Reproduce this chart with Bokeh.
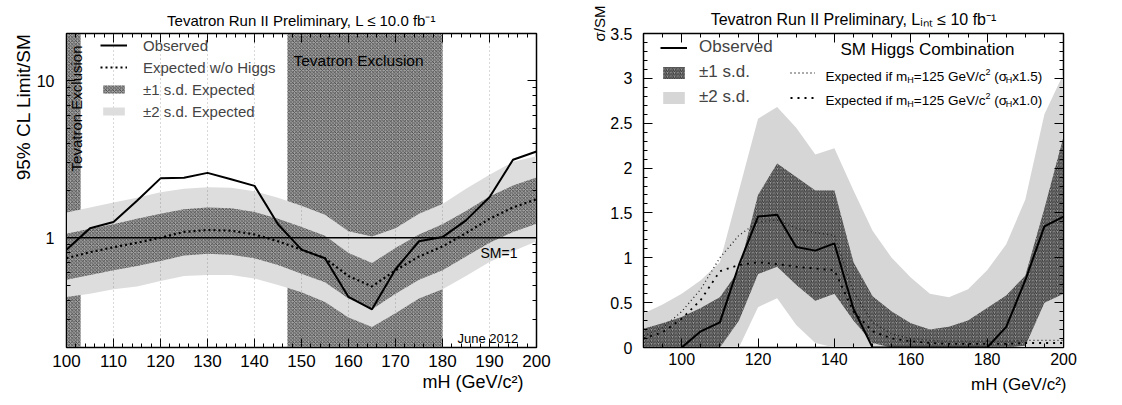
import math
from bokeh.plotting import figure
from bokeh.layouts import row
from bokeh.models import (Range1d, FixedTicker, Label, Span, Legend, LegendItem, Title,
                          BoxAnnotation, ColumnDataSource, LinearAxis, LogAxis)
from bokeh.embed import file_html
from bokeh.resources import INLINE

FONT = "Liberation Sans"

# ---------------- left panel data (95% CL limit / SM, log scale) ----------------
mass_l = [100, 105, 110, 115, 120, 125, 130, 135, 140, 145, 150,
          155, 160, 165, 170, 175, 180, 185, 190, 195, 200]
obs_l = [0.84, 1.15, 1.26, 1.72, 2.39, 2.41, 2.59, 2.36, 2.14, 1.22, 0.84,
         0.74, 0.42, 0.35, 0.63, 0.95, 1.01, 1.29, 1.81, 3.14, 3.54]
exp_l = [0.74, 0.81, 0.87, 0.93, 1.00, 1.09, 1.12, 1.11, 1.05, 0.95, 0.84,
         0.74, 0.57, 0.49, 0.62, 0.76, 0.88, 1.07, 1.32, 1.56, 1.76]
s1hi_l = [1.06, 1.14, 1.22, 1.32, 1.42, 1.52, 1.56, 1.54, 1.46, 1.32, 1.17,
          1.03, 0.80, 0.69, 0.86, 1.05, 1.22, 1.48, 1.83, 2.15, 2.42]
s1lo_l = [0.54, 0.58, 0.62, 0.66, 0.71, 0.77, 0.79, 0.78, 0.74, 0.67, 0.59,
          0.52, 0.41, 0.35, 0.44, 0.54, 0.62, 0.76, 0.93, 1.09, 1.23]
s2hi_l = [1.45, 1.56, 1.68, 1.80, 1.95, 2.05, 2.10, 2.08, 1.98, 1.80, 1.60,
          1.40, 1.10, 1.02, 1.15, 1.42, 1.64, 2.05, 2.52, 3.05, 3.30]
s2lo_l = [0.42, 0.44, 0.47, 0.49, 0.53, 0.57, 0.58, 0.58, 0.55, 0.50, 0.45,
          0.39, 0.31, 0.27, 0.33, 0.41, 0.47, 0.57, 0.70, 0.82, 0.95]
excl_start = [100, 147]
excl_end = [103, 180]
xticks_l = [100, 110, 120, 130, 140, 150, 160, 170, 180, 190, 200]
yticks_l = [1, 10]
ytick_labels_l = ["1", "10"]
yminor_l = [0.2, 0.3, 0.4, 0.5, 0.6, 0.7, 0.8, 0.9, 2, 3, 4, 5, 6, 7, 8, 9, 20]

# ---------------- right panel data (sigma/SM, linear) ----------------
mass_r = [90, 95, 100, 105, 110, 115, 120, 125, 130, 135, 140, 145,
          150, 155, 160, 165, 170, 175, 180, 185, 190, 195, 200]
s1hi_r = [0.21, 0.27, 0.34, 0.44, 0.56, 0.86, 1.70, 2.05, 1.90, 1.75, 1.75, 0.95,
          0.57, 0.40, 0.27, 0.20, 0.23, 0.30, 0.44, 0.58, 0.80, 1.55, 2.35]
s1lo_r = [0, 0, 0, 0, 0, 0.30, 0.82, 0.90, 0.70, 0.52, 0.60, 0.30,
          0.05, 0, 0, 0, 0, 0, 0, 0, 0.02, 0.50, 0.60]
s2hi_r = [0.38, 0.48, 0.60, 0.75, 0.95, 1.75, 2.55, 2.68, 2.45, 2.15, 2.22, 1.75,
          1.30, 1.00, 0.78, 0.60, 0.56, 0.65, 0.86, 1.15, 1.65, 2.60, 3.05]
s2lo_r = [0, 0, 0, 0, 0, 0, 0.45, 0.55, 0.25, 0.05, 0, 0,
          0, 0, 0, 0, 0, 0, 0, 0, 0, 0, 0]
exp10_r = [0.10, 0.17, 0.32, 0.53, 0.85, 0.92, 0.95, 0.93, 0.90, 0.88, 0.86, 0.40,
           0.18, 0.10, 0.07, 0.05, 0.04, 0.04, 0.04, 0.04, 0.05, 0.05, 0.05]
exp15_r = [0.13, 0.22, 0.40, 0.65, 1.00, 1.25, 1.40, 1.42, 1.33, 1.28, 1.25, 0.62,
           0.28, 0.15, 0.10, 0.08, 0.07, 0.07, 0.07, 0.07, 0.08, 0.08, 0.08]
mass_obs_r = [100, 105, 110, 115, 120, 125, 130, 135, 140, 145, 150,
              155, 160, 165, 170, 175, 180, 185, 190, 195, 200]
obs_r = [0, 0.18, 0.28, 0.92, 1.46, 1.48, 1.12, 1.08, 1.16, 0.43, 0,
         0, 0, 0, 0, 0, 0, 0.23, 0.75, 1.35, 1.46]
xticks_r = [100, 120, 140, 160, 180, 200]
xminor_r = list(range(90, 201, 5))
yticks_r = [0, 0.5, 1, 1.5, 2, 2.5, 3, 3.5]
ytick_labels_r = ["0", "0.5", "1", "1.5", "2", "2.5", "3", "3.5"]
yminor_r = [round(0.1 * i, 1) for i in range(0, 36)]

# ---------------- helpers ----------------
W = {' ': 278, '!': 278, '(': 333, ')': 333, ',': 278, '-': 333, '.': 278, '/': 278,
     '=': 584, '≤': 549, '±': 549, '%': 889, 'σ': 520,
     'A': 667, 'B': 667, 'C': 722, 'D': 722, 'E': 667, 'F': 611, 'G': 778, 'H': 722,
     'I': 278, 'J': 500, 'K': 667, 'L': 556, 'M': 833, 'N': 722, 'O': 778, 'P': 667,
     'Q': 778, 'R': 722, 'S': 667, 'T': 611, 'U': 722, 'V': 667, 'W': 944, 'X': 667,
     'Y': 667, 'Z': 611, 'a': 556, 'b': 556, 'c': 500, 'd': 556, 'e': 556, 'f': 278,
     'g': 556, 'h': 556, 'i': 222, 'j': 222, 'k': 500, 'l': 222, 'm': 833, 'n': 556,
     'o': 556, 'p': 556, 'q': 556, 'r': 333, 's': 500, 't': 278, 'u': 556, 'v': 500,
     'w': 722, 'x': 500, 'y': 500, 'z': 500}


def tw(s, size):
    return sum(W.get(c, 556) for c in s) * size / 1000.0


def rich(p, segs, x, y, align="left"):
    """Text made of pieces (for sub/superscripts) inside the frame."""
    total = sum(tw(t, s) for t, s, dy in segs)
    if align == "center":
        x -= total / 2.0
    elif align == "right":
        x -= total
    for t, s, dy in segs:
        lead = len(t) - len(t.lstrip(" "))
        x += tw(" " * lead, s)
        body = t.lstrip(" ")
        p.add_layout(Label(x=x, y=y + dy, x_units="screen", y_units="screen", text=body,
                           text_font_size=f"{s}px", text_font=FONT, text_color="black",
                           text_baseline="alphabetic", text_align="left"))
        x += tw(body, s)


def label(p, text, x, y, size, angle=0.0, align="left", baseline="alphabetic"):
    p.add_layout(Label(x=x, y=y, x_units="screen", y_units="screen", text=text,
                       text_font_size=f"{size}px", text_font=FONT, text_color="black",
                       angle=angle, text_align=align, text_baseline=baseline))


def side_title(p, text, place, size, align, offset=0, standoff=0):
    p.add_layout(Title(text=text, align=align, offset=offset, standoff=standoff,
                       text_font=FONT, text_font_size=f"{size}px", text_font_style="normal",
                       text_color="black"), place)


def style_axis(ax, size, standoff):
    ax.major_tick_in = 9
    ax.major_tick_out = 0
    ax.minor_tick_in = 4
    ax.minor_tick_out = 0
    ax.axis_line_color = "black"
    ax.major_tick_line_color = "black"
    ax.minor_tick_line_color = "black"
    ax.major_label_text_font = FONT
    ax.major_label_text_color = "black"
    ax.major_label_text_font_size = f"{size}px"
    ax.major_label_standoff = standoff


def hide_labels(ax, ticks):
    ax.major_label_overrides = {t: "" for t in ticks}
    ax.major_label_standoff = 0


HATCH_DARK = dict(hatch_pattern="diagonal_cross", hatch_color="#3a3a3a",
                  hatch_scale=3.5, hatch_weight=0.8)

# ================= left figure =================
pL = figure(width=560, height=405, x_range=Range1d(100, 200), y_range=Range1d(0.2, 20),
            y_axis_type="log", output_backend="svg", toolbar_location=None,
            min_border_left=66, min_border_right=24, min_border_top=30, min_border_bottom=58,
            background_fill_color="white", border_fill_color="white")
pL.outline_line_color = "black"
pL.outline_line_width = 1.5

for s, e in zip(excl_start, excl_end):
    pL.add_layout(BoxAnnotation(left=s, right=e, fill_color="#a2a2a2", fill_alpha=1.0,
                                line_color=None, level="underlay", **HATCH_DARK))

srcL = ColumnDataSource(dict(m=mass_l, obs=obs_l, exp=exp_l, s1lo=s1lo_l, s1hi=s1hi_l,
                             s2lo=s2lo_l, s2hi=s2hi_l))
r2L = pL.varea(x="m", y1="s2lo", y2="s2hi", source=srcL, fill_color="#dddddd")
r1L = pL.varea(x="m", y1="s1lo", y2="s1hi", source=srcL, fill_color="#a2a2a2", **HATCH_DARK)

pL.xgrid.ticker = FixedTicker(ticks=xticks_l[1:-1])
pL.xgrid.grid_line_color = "#555555"
pL.xgrid.grid_line_alpha = 0.45
pL.xgrid.grid_line_dash = "1 3"
pL.xgrid.level = "guide"
pL.ygrid.grid_line_color = None

pL.add_layout(Span(location=1, dimension="width", line_color="black", line_width=1.3))
reL = pL.line("m", "exp", source=srcL, line_color="black", line_width=2.2, line_dash="2 3")
roL = pL.line("m", "obs", source=srcL, line_color="black", line_width=2)

style_axis(pL.xaxis[0], 17, 7)
pL.xaxis.ticker = FixedTicker(ticks=xticks_l, minor_ticks=list(range(100, 201, 2)))
style_axis(pL.yaxis[0], 16, 12)
pL.yaxis.ticker = FixedTicker(ticks=yticks_l, minor_ticks=yminor_l)
pL.yaxis.major_label_overrides = dict(zip(yticks_l, ytick_labels_l))

axT = LinearAxis(ticker=FixedTicker(ticks=xticks_l, minor_ticks=list(range(100, 201, 2))))
style_axis(axT, 10, 0)
hide_labels(axT, xticks_l)
pL.add_layout(axT, "above")
axR = LogAxis(ticker=FixedTicker(ticks=yticks_l, minor_ticks=yminor_l))
style_axis(axR, 10, 0)
hide_labels(axR, yticks_l)
pL.add_layout(axR, "right")

legL = Legend(items=[LegendItem(label="Observed", renderers=[roL]),
                     LegendItem(label="Expected w/o Higgs", renderers=[reL]),
                     LegendItem(label="±1 s.d. Expected", renderers=[r1L]),
                     LegendItem(label="±2 s.d. Expected", renderers=[r2L])],
              location=(34, 227), label_text_font_size="15px", label_text_font=FONT,
              glyph_width=27, glyph_height=10, label_height=18, spacing=4, padding=0,
              margin=0, label_standoff=16, border_line_color=None, background_fill_alpha=0)
pL.add_layout(legL)

side_title(pL, "Tevatron Run II Preliminary, L ≤ 10.0 fb⁻¹", "above", 15, "center", offset=-26, standoff=10)
side_title(pL, "mH (GeV/c²)", "below", 18, "right", offset=13, standoff=0)
side_title(pL, "95% CL Limit/SM", "left", 19, "right", offset=0, standoff=0)

label(pL, "Tevatron Exclusion", 10, 302, 15, angle=math.pi / 2, align="right", baseline="middle")
label(pL, "Tevatron Exclusion", 227, 287, 15.5)
label(pL, "SM=1", 414, 95, 14)
label(pL, "June 2012", 391, 9, 13)

# ================= right figure =================
pR = figure(width=562, height=405, x_range=Range1d(90, 200), y_range=Range1d(0, 3.5),
            output_backend="svg", toolbar_location=None,
            min_border_left=83, min_border_right=59, min_border_top=33, min_border_bottom=54,
            background_fill_color="white", border_fill_color="white")
pR.outline_line_color = "black"
pR.outline_line_width = 1.5
pR.grid.grid_line_color = None

srcR = ColumnDataSource(dict(m=mass_r, s1lo=s1lo_r, s1hi=s1hi_r, s2lo=s2lo_r, s2hi=s2hi_r,
                             e10=exp10_r, e15=exp15_r))
r2R = pR.varea(x="m", y1="s2lo", y2="s2hi", source=srcR, fill_color="#d6d6d6")
r1R = pR.varea(x="m", y1="s1lo", y2="s1hi", source=srcR, fill_color="#9c9c9c",
               hatch_pattern="right_diagonal_line", hatch_color="#333333",
               hatch_scale=3.5, hatch_weight=1.0)
e15R = pR.line("m", "e15", source=srcR, line_color="#222222", line_width=1.3, line_dash="1 3")
e10R = pR.line("m", "e10", source=srcR, line_color="black", line_width=1.8, line_dash="2 5")
roR = pR.line(mass_obs_r, obs_r, line_color="black", line_width=2)

style_axis(pR.xaxis[0], 16, 5)
pR.xaxis.ticker = FixedTicker(ticks=xticks_r, minor_ticks=xminor_r)
style_axis(pR.yaxis[0], 16, 11)
pR.yaxis.ticker = FixedTicker(ticks=yticks_r, minor_ticks=yminor_r)
pR.yaxis.major_label_overrides = dict(zip(yticks_r, ytick_labels_r))

axT2 = LinearAxis(ticker=FixedTicker(ticks=xticks_r, minor_ticks=xminor_r))
style_axis(axT2, 10, 0)
hide_labels(axT2, xticks_r)
pR.add_layout(axT2, "above")
axR2 = LinearAxis(ticker=FixedTicker(ticks=yticks_r, minor_ticks=yminor_r))
style_axis(axR2, 10, 0)
hide_labels(axR2, yticks_r)
pR.add_layout(axR2, "right")

legR1 = Legend(items=[LegendItem(label="Observed", renderers=[roR]),
                      LegendItem(label="±1 s.d.", renderers=[r1R]),
                      LegendItem(label="±2 s.d.", renderers=[r2R])],
               location=(17, 240), label_text_font_size="17px", label_text_font=FONT,
               glyph_width=27, glyph_height=15, label_height=20, spacing=5, padding=0,
               margin=0, label_standoff=12, border_line_color=None, background_fill_alpha=0)
legR2 = Legend(items=[LegendItem(label=" ", renderers=[e15R]),
                      LegendItem(label=" ", renderers=[e10R])],
               location=(147, 240), label_text_font_size="12px", label_text_font=FONT,
               glyph_width=25, glyph_height=15, label_height=20, spacing=5, padding=0,
               margin=0, label_standoff=2, border_line_color=None, background_fill_alpha=0)
pR.add_layout(legR1)
pR.add_layout(legR2)

side_title(pR, "Tevatron Run II Preliminary, Lᵢₙₜ ≤ 10 fb⁻¹", "above", 16, "center", offset=-41, standoff=12)
side_title(pR, "mH (GeV/c²)", "below", 17, "right", offset=-3, standoff=10)
side_title(pR, "σ/SM", "left", 15, "right", offset=-28, standoff=0)

label(pR, "SM Higgs Combination", 197, 298, 17)
for yb, k in ((271, "x1.5)"), (247, "x1.0)")):
    rich(pR, [("Expected if m", 13.5, 0), ("H", 9, -3), ("=125 GeV/c", 13.5, 0), ("2", 9, 5),
              (" (σ", 13.5, 0), ("H", 9, -3), (k, 13.5, 0)], 182, yb)

layout = row(pL, pR)
open("out.html", "w").write(file_html(layout, INLINE))
